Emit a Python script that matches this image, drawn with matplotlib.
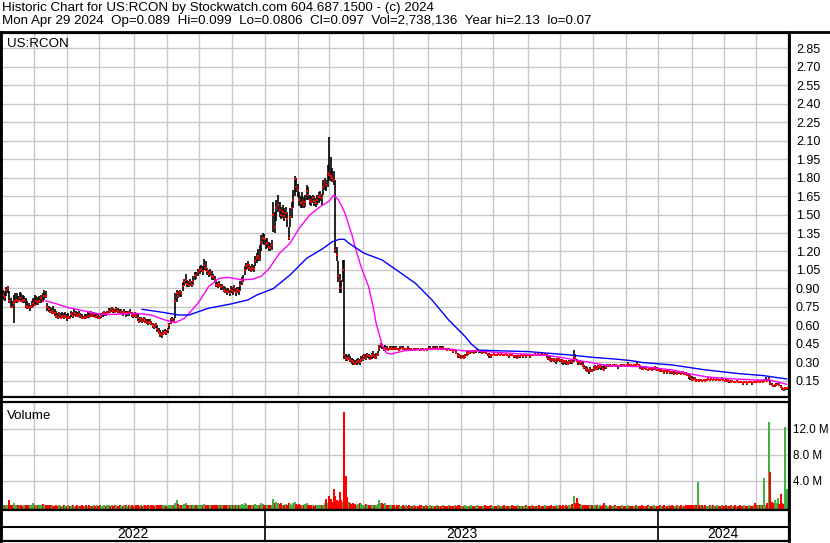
import matplotlib
matplotlib.use('Agg')
import matplotlib.pyplot as plt
from matplotlib.lines import Line2D
import numpy as np
import pandas as pd

plt.rcParams['font.family'] = ['Liberation Sans', 'DejaVu Sans']

# Barras diarias (dias habiles) desde 2 may 2022 hasta 29 abr 2024
close = [
    0.83, 0.85, 0.83, 0.89, 0.90, 0.80, 0.75, 0.75, 0.78, 0.80,
    0.81, 0.80, 0.82, 0.80, 0.80, 0.81, 0.76, 0.75, 0.74, 0.75,
    0.76, 0.78, 0.77, 0.80, 0.79, 0.80, 0.82, 0.80, 0.84, 0.84,
    0.75, 0.73, 0.71, 0.72, 0.70, 0.70, 0.68, 0.67, 0.69, 0.66,
    0.68, 0.67, 0.68, 0.66, 0.67, 0.66, 0.69, 0.68, 0.70, 0.69,
    0.68, 0.69, 0.68, 0.66, 0.66, 0.67, 0.66, 0.68, 0.68, 0.69,
    0.68, 0.69, 0.67, 0.68, 0.66, 0.66, 0.68, 0.69, 0.70, 0.69,
    0.70, 0.72, 0.71, 0.73, 0.72, 0.71, 0.73, 0.72, 0.70, 0.71,
    0.70, 0.71, 0.69, 0.70, 0.70, 0.71, 0.69, 0.68, 0.69, 0.68,
    0.66, 0.64, 0.65, 0.64, 0.65, 0.64, 0.63, 0.62, 0.63, 0.62,
    0.60, 0.59, 0.60, 0.57, 0.55, 0.53, 0.52, 0.54, 0.55, 0.54,
    0.56, 0.60, 0.63, 0.65, 0.64, 0.80, 0.86, 0.84, 0.87, 0.86,
    0.92, 0.95, 0.97, 0.94, 0.93, 0.95, 0.93, 0.96, 1.01, 1.00,
    1.03, 1.05, 1.06, 1.04, 1.09, 1.07, 1.04, 1.02, 1.03, 1.00,
    0.99, 0.97, 0.93, 0.92, 0.94, 0.91, 0.92, 0.89, 0.88, 0.87,
    0.88, 0.86, 0.89, 0.88, 0.90, 0.87, 0.89, 0.88, 0.93, 0.96,
    0.98, 1.05, 1.08, 1.09, 1.07, 1.05, 1.07, 1.06, 1.12, 1.15,
    1.16, 1.14, 1.28, 1.31, 1.30, 1.26, 1.27, 1.24, 1.23, 1.25,
    1.50, 1.40, 1.55, 1.58, 1.54, 1.50, 1.52, 1.49, 1.51, 1.46,
    1.31, 1.48, 1.55, 1.62, 1.79, 1.72, 1.70, 1.62, 1.59, 1.60,
    1.58, 1.60, 1.69, 1.66, 1.62, 1.60, 1.63, 1.61, 1.59, 1.62,
    1.64, 1.66, 1.63, 1.72, 1.76, 1.74, 1.84, 1.82, 1.81, 1.80,
    1.78, 1.21, 1.17, 1.00, 0.97, 0.90, 1.05, 0.36, 0.34, 0.33,
    0.34, 0.32, 0.31, 0.30, 0.29, 0.30, 0.31, 0.30, 0.32, 0.33,
    0.35, 0.34, 0.36, 0.35, 0.33, 0.35, 0.36, 0.34, 0.35, 0.37,
    0.42, 0.44, 0.43, 0.41, 0.42, 0.41, 0.40, 0.41, 0.42, 0.41,
    0.41, 0.42, 0.41, 0.40, 0.41, 0.42, 0.41, 0.40, 0.41, 0.41,
    0.40, 0.41, 0.40, 0.41, 0.40, 0.41, 0.41, 0.40, 0.40, 0.41,
    0.40, 0.41, 0.40, 0.41, 0.42, 0.41, 0.42, 0.41, 0.42, 0.41,
    0.42, 0.41, 0.42, 0.41, 0.41, 0.40, 0.41, 0.40, 0.40, 0.39,
    0.40, 0.38, 0.36, 0.35, 0.34, 0.35, 0.34, 0.35, 0.37, 0.38,
    0.38, 0.39, 0.39, 0.38, 0.39, 0.40, 0.39, 0.39, 0.38, 0.39,
    0.39, 0.38, 0.37, 0.36, 0.35, 0.36, 0.37, 0.36, 0.36, 0.37,
    0.36, 0.37, 0.36, 0.36, 0.37, 0.36, 0.35, 0.36, 0.36, 0.35,
    0.35, 0.34, 0.35, 0.35, 0.36, 0.35, 0.36, 0.35, 0.36, 0.36,
    0.35, 0.36, 0.36, 0.37, 0.36, 0.37, 0.36, 0.37, 0.37, 0.36,
    0.37, 0.36, 0.34, 0.33, 0.32, 0.33, 0.32, 0.31, 0.32, 0.33,
    0.32, 0.31, 0.30, 0.31, 0.30, 0.29, 0.30, 0.31, 0.30, 0.35,
    0.34, 0.31, 0.30, 0.29, 0.30, 0.28, 0.26, 0.25, 0.24, 0.23,
    0.24, 0.23, 0.25, 0.26, 0.25, 0.26, 0.27, 0.26, 0.25, 0.24,
    0.26, 0.27, 0.28, 0.27, 0.27, 0.28, 0.27, 0.28, 0.27, 0.27,
    0.27, 0.28, 0.28, 0.27, 0.28, 0.29, 0.28, 0.28, 0.27, 0.28,
    0.28, 0.29, 0.28, 0.27, 0.25, 0.25, 0.26, 0.25, 0.24, 0.25,
    0.25, 0.24, 0.25, 0.26, 0.25, 0.24, 0.23, 0.24, 0.23, 0.22,
    0.23, 0.22, 0.23, 0.22, 0.22, 0.21, 0.22, 0.21, 0.22, 0.22,
    0.21, 0.22, 0.21, 0.21, 0.20, 0.19, 0.18, 0.17, 0.16, 0.17,
    0.15, 0.16, 0.15, 0.16, 0.15, 0.16, 0.15, 0.16, 0.17, 0.16,
    0.17, 0.16, 0.17, 0.16, 0.17, 0.16, 0.16, 0.17, 0.16, 0.15,
    0.15, 0.16, 0.15, 0.14, 0.15, 0.14, 0.14, 0.15, 0.14, 0.14,
    0.14, 0.13, 0.14, 0.14, 0.13, 0.14, 0.14, 0.13, 0.14, 0.14,
    0.14, 0.15, 0.14, 0.15, 0.14, 0.15, 0.16, 0.15, 0.17, 0.13,
    0.12, 0.11, 0.115, 0.12, 0.125, 0.12, 0.10, 0.09, 0.085, 0.089, 0.097,
]

high = [
    0.87, 0.89, 0.88, 0.91, 0.92, 0.88, 0.82, 0.80, 0.85, 0.86,
    0.86, 0.84, 0.87, 0.86, 0.85, 0.84, 0.82, 0.80, 0.78, 0.77,
    0.80, 0.82, 0.85, 0.84, 0.83, 0.84, 0.85, 0.86, 0.89, 0.88,
    0.78, 0.76, 0.75, 0.74, 0.76, 0.73, 0.72, 0.70, 0.71, 0.70,
    0.71, 0.70, 0.71, 0.69, 0.70, 0.68, 0.72, 0.71, 0.73, 0.72,
    0.71, 0.72, 0.70, 0.69, 0.68, 0.69, 0.69, 0.71, 0.70, 0.72,
    0.71, 0.71, 0.70, 0.70, 0.69, 0.68, 0.70, 0.71, 0.72, 0.71,
    0.72, 0.74, 0.74, 0.75, 0.74, 0.73, 0.75, 0.74, 0.73, 0.73,
    0.72, 0.73, 0.72, 0.72, 0.72, 0.73, 0.71, 0.70, 0.71, 0.70,
    0.69, 0.67, 0.67, 0.66, 0.67, 0.66, 0.65, 0.65, 0.65, 0.64,
    0.62, 0.61, 0.62, 0.60, 0.58, 0.56, 0.55, 0.56, 0.57, 0.56,
    0.58, 0.62, 0.66, 0.67, 0.66, 0.86, 0.89, 0.88, 0.89, 0.88,
    0.95, 0.98, 1.02, 0.97, 0.96, 0.98, 0.96, 1.00, 1.03, 1.03,
    1.06, 1.08, 1.09, 1.08, 1.14, 1.12, 1.07, 1.05, 1.06, 1.04,
    1.02, 1.00, 0.96, 0.95, 0.96, 0.94, 0.94, 0.92, 0.91, 0.90,
    0.90, 0.89, 0.92, 0.91, 0.93, 0.90, 0.91, 0.91, 0.96, 0.99,
    1.01, 1.08, 1.11, 1.12, 1.10, 1.08, 1.10, 1.09, 1.16, 1.19,
    1.22, 1.25, 1.33, 1.35, 1.34, 1.30, 1.31, 1.28, 1.27, 1.29,
    1.60, 1.52, 1.62, 1.66, 1.60, 1.56, 1.58, 1.55, 1.56, 1.52,
    1.40, 1.55, 1.60, 1.70, 1.81, 1.80, 1.75, 1.68, 1.65, 1.68,
    1.64, 1.66, 1.74, 1.72, 1.66, 1.65, 1.66, 1.65, 1.63, 1.66,
    1.68, 1.69, 1.67, 1.78, 1.80, 1.78, 1.90, 2.13, 1.97, 1.88,
    1.85, 1.78, 1.24, 1.12, 1.02, 0.97, 1.13, 1.13, 0.37, 0.36,
    0.37, 0.35, 0.34, 0.33, 0.32, 0.33, 0.34, 0.33, 0.35, 0.36,
    0.37, 0.37, 0.38, 0.37, 0.36, 0.38, 0.39, 0.37, 0.38, 0.39,
    0.44, 0.46, 0.45, 0.43, 0.44, 0.43, 0.42, 0.43, 0.43, 0.43,
    0.43, 0.43, 0.42, 0.42, 0.43, 0.43, 0.43, 0.42, 0.42, 0.43,
    0.42, 0.42, 0.41, 0.42, 0.42, 0.42, 0.42, 0.41, 0.42, 0.42,
    0.41, 0.42, 0.42, 0.43, 0.43, 0.42, 0.43, 0.43, 0.43, 0.42,
    0.43, 0.43, 0.43, 0.42, 0.42, 0.42, 0.42, 0.41, 0.41, 0.41,
    0.41, 0.40, 0.38, 0.37, 0.36, 0.36, 0.36, 0.37, 0.39, 0.39,
    0.39, 0.40, 0.40, 0.40, 0.40, 0.41, 0.40, 0.40, 0.39, 0.40,
    0.40, 0.39, 0.38, 0.38, 0.37, 0.37, 0.38, 0.37, 0.37, 0.38,
    0.37, 0.38, 0.37, 0.37, 0.38, 0.37, 0.36, 0.37, 0.37, 0.36,
    0.36, 0.36, 0.36, 0.36, 0.37, 0.36, 0.37, 0.36, 0.37, 0.37,
    0.36, 0.37, 0.37, 0.38, 0.37, 0.38, 0.37, 0.38, 0.38, 0.37,
    0.38, 0.37, 0.35, 0.35, 0.34, 0.34, 0.34, 0.33, 0.34, 0.34,
    0.33, 0.33, 0.32, 0.32, 0.32, 0.31, 0.32, 0.32, 0.32, 0.40,
    0.37, 0.33, 0.32, 0.31, 0.31, 0.30, 0.28, 0.27, 0.26, 0.25,
    0.26, 0.25, 0.27, 0.28, 0.27, 0.28, 0.29, 0.28, 0.27, 0.28,
    0.28, 0.29, 0.29, 0.29, 0.28, 0.29, 0.29, 0.29, 0.28, 0.28,
    0.29, 0.29, 0.29, 0.28, 0.29, 0.30, 0.29, 0.29, 0.28, 0.29,
    0.29, 0.30, 0.29, 0.28, 0.27, 0.26, 0.27, 0.27, 0.25, 0.26,
    0.26, 0.26, 0.26, 0.27, 0.26, 0.25, 0.25, 0.25, 0.24, 0.24,
    0.24, 0.24, 0.24, 0.23, 0.23, 0.23, 0.23, 0.22, 0.23, 0.23,
    0.22, 0.23, 0.22, 0.22, 0.21, 0.21, 0.20, 0.19, 0.18, 0.18,
    0.17, 0.17, 0.17, 0.17, 0.16, 0.17, 0.17, 0.17, 0.18, 0.17,
    0.18, 0.17, 0.18, 0.17, 0.18, 0.17, 0.17, 0.18, 0.17, 0.16,
    0.17, 0.17, 0.16, 0.16, 0.16, 0.15, 0.15, 0.16, 0.15, 0.15,
    0.15, 0.14, 0.15, 0.15, 0.14, 0.15, 0.15, 0.14, 0.15, 0.15,
    0.15, 0.16, 0.15, 0.16, 0.15, 0.17, 0.18, 0.17, 0.185, 0.16,
    0.13, 0.12, 0.12, 0.13, 0.13, 0.13, 0.12, 0.10, 0.095, 0.10, 0.099,
]

low = [
    0.80, 0.81, 0.80, 0.84, 0.86, 0.78, 0.74, 0.74, 0.62, 0.78,
    0.78, 0.79, 0.80, 0.79, 0.78, 0.78, 0.74, 0.73, 0.73, 0.72,
    0.74, 0.75, 0.76, 0.77, 0.77, 0.78, 0.78, 0.79, 0.81, 0.82,
    0.72, 0.71, 0.70, 0.69, 0.69, 0.68, 0.66, 0.65, 0.66, 0.65,
    0.66, 0.65, 0.66, 0.64, 0.65, 0.65, 0.67, 0.66, 0.68, 0.67,
    0.67, 0.67, 0.66, 0.65, 0.65, 0.65, 0.65, 0.66, 0.66, 0.67,
    0.67, 0.67, 0.66, 0.66, 0.65, 0.65, 0.66, 0.67, 0.68, 0.68,
    0.69, 0.70, 0.70, 0.71, 0.70, 0.70, 0.71, 0.70, 0.69, 0.69,
    0.68, 0.69, 0.67, 0.68, 0.68, 0.69, 0.67, 0.66, 0.67, 0.66,
    0.64, 0.62, 0.63, 0.62, 0.63, 0.62, 0.61, 0.60, 0.61, 0.60,
    0.58, 0.57, 0.58, 0.55, 0.53, 0.51, 0.50, 0.52, 0.53, 0.52,
    0.54, 0.57, 0.61, 0.63, 0.62, 0.66, 0.79, 0.82, 0.83, 0.83,
    0.88, 0.92, 0.94, 0.91, 0.91, 0.92, 0.91, 0.93, 0.97, 0.98,
    1.00, 1.02, 1.03, 1.01, 1.05, 1.04, 1.01, 0.99, 1.00, 0.97,
    0.97, 0.95, 0.91, 0.90, 0.91, 0.89, 0.89, 0.87, 0.86, 0.85,
    0.86, 0.84, 0.86, 0.85, 0.87, 0.84, 0.86, 0.85, 0.88, 0.93,
    0.95, 1.01, 1.05, 1.06, 1.04, 1.03, 1.04, 1.03, 1.08, 1.11,
    1.12, 1.12, 1.20, 1.26, 1.25, 1.22, 1.23, 1.20, 1.20, 1.21,
    1.36, 1.35, 1.45, 1.52, 1.48, 1.46, 1.47, 1.45, 1.47, 1.40,
    1.29, 1.40, 1.47, 1.55, 1.65, 1.68, 1.64, 1.57, 1.55, 1.55,
    1.55, 1.56, 1.62, 1.62, 1.58, 1.57, 1.59, 1.57, 1.56, 1.58,
    1.59, 1.61, 1.58, 1.66, 1.70, 1.69, 1.72, 1.77, 1.77, 1.76,
    1.74, 1.19, 1.12, 0.95, 0.86, 0.86, 0.95, 0.33, 0.31, 0.31,
    0.32, 0.30, 0.29, 0.28, 0.28, 0.28, 0.29, 0.28, 0.30, 0.31,
    0.33, 0.32, 0.34, 0.33, 0.32, 0.33, 0.34, 0.33, 0.33, 0.35,
    0.39, 0.42, 0.41, 0.39, 0.40, 0.40, 0.39, 0.40, 0.40, 0.40,
    0.40, 0.40, 0.40, 0.39, 0.40, 0.41, 0.40, 0.39, 0.40, 0.40,
    0.39, 0.40, 0.39, 0.40, 0.39, 0.40, 0.40, 0.39, 0.39, 0.40,
    0.39, 0.40, 0.39, 0.40, 0.41, 0.40, 0.41, 0.40, 0.41, 0.40,
    0.41, 0.40, 0.41, 0.40, 0.40, 0.39, 0.40, 0.39, 0.39, 0.38,
    0.39, 0.37, 0.34, 0.34, 0.33, 0.34, 0.33, 0.34, 0.35, 0.36,
    0.37, 0.38, 0.38, 0.37, 0.38, 0.39, 0.38, 0.38, 0.37, 0.38,
    0.38, 0.37, 0.35, 0.34, 0.34, 0.35, 0.36, 0.35, 0.35, 0.36,
    0.35, 0.36, 0.35, 0.35, 0.36, 0.35, 0.34, 0.35, 0.35, 0.34,
    0.34, 0.33, 0.34, 0.34, 0.35, 0.34, 0.35, 0.34, 0.35, 0.35,
    0.34, 0.35, 0.35, 0.36, 0.35, 0.36, 0.35, 0.36, 0.36, 0.35,
    0.36, 0.34, 0.32, 0.31, 0.30, 0.31, 0.30, 0.29, 0.30, 0.31,
    0.30, 0.29, 0.28, 0.29, 0.28, 0.28, 0.29, 0.29, 0.29, 0.30,
    0.32, 0.30, 0.28, 0.28, 0.28, 0.26, 0.25, 0.23, 0.22, 0.21,
    0.22, 0.22, 0.23, 0.24, 0.24, 0.24, 0.25, 0.24, 0.24, 0.24,
    0.25, 0.26, 0.26, 0.26, 0.26, 0.27, 0.26, 0.26, 0.25, 0.26,
    0.26, 0.27, 0.27, 0.26, 0.27, 0.27, 0.27, 0.27, 0.26, 0.27,
    0.27, 0.28, 0.27, 0.25, 0.24, 0.24, 0.25, 0.24, 0.23, 0.24,
    0.24, 0.23, 0.24, 0.24, 0.23, 0.23, 0.22, 0.22, 0.22, 0.21,
    0.22, 0.21, 0.22, 0.21, 0.21, 0.20, 0.21, 0.20, 0.21, 0.21,
    0.20, 0.21, 0.20, 0.20, 0.19, 0.17, 0.16, 0.15, 0.15, 0.16,
    0.14, 0.15, 0.14, 0.15, 0.14, 0.15, 0.14, 0.15, 0.16, 0.15,
    0.16, 0.15, 0.16, 0.15, 0.16, 0.15, 0.15, 0.16, 0.15, 0.14,
    0.14, 0.14, 0.13, 0.13, 0.14, 0.13, 0.13, 0.14, 0.13, 0.13,
    0.13, 0.12, 0.13, 0.13, 0.12, 0.13, 0.13, 0.12, 0.13, 0.13,
    0.13, 0.14, 0.13, 0.14, 0.13, 0.14, 0.15, 0.14, 0.15, 0.12,
    0.11, 0.10, 0.105, 0.11, 0.115, 0.11, 0.095, 0.08, 0.07, 0.08, 0.0806,
]

# volumen diario en millones de acciones
volume = [
    0.4, 0.3, 0.2, 0.3, 0.2, 1.0, 0.3, 0.3, 0.6, 0.2,
    0.2, 0.3, 0.2, 0.2, 0.1, 0.2, 0.2, 0.2, 0.3, 0.2,
    0.3, 0.6, 0.2, 0.2, 0.2, 0.2, 0.3, 0.4, 0.3, 0.3,
    0.3, 0.3, 0.2, 0.3, 0.1, 0.1, 0.2, 0.1, 0.2, 0.1,
    0.1, 0.2, 0.1, 0.1, 0.2, 0.1, 0.1, 0.2, 0.1, 0.1,
    0.2, 0.1, 0.1, 0.2, 0.1, 0.1, 0.2, 0.1, 0.2, 0.1,
    0.1, 0.2, 0.1, 0.2, 0.1, 0.2, 0.1, 0.1, 0.2, 0.1,
    0.2, 0.2, 0.1, 0.2, 0.1, 0.2, 0.2, 0.1, 0.2, 0.1,
    0.1, 0.2, 0.2, 0.1, 0.2, 0.1, 0.2, 0.1, 0.2, 0.2,
    0.2, 0.1, 0.2, 0.1, 0.2, 0.2, 0.1, 0.2, 0.1, 0.2,
    0.2, 0.1, 0.2, 0.2, 0.3, 0.2, 0.3, 0.2, 0.2, 0.1,
    0.2, 0.2, 0.3, 0.2, 0.2, 0.5, 1.0, 0.4, 0.3, 0.3,
    0.3, 0.4, 0.5, 0.3, 0.2, 0.3, 0.2, 0.2, 0.3, 0.2,
    0.3, 0.2, 0.3, 0.2, 0.4, 0.3, 0.2, 0.2, 0.2, 0.2,
    0.2, 0.2, 0.3, 0.2, 0.2, 0.2, 0.2, 0.3, 0.2, 0.2,
    0.2, 0.2, 0.2, 0.2, 0.3, 0.2, 0.2, 0.2, 0.3, 0.4,
    0.3, 0.5, 0.4, 0.3, 0.3, 0.2, 0.3, 0.2, 0.4, 0.3,
    0.3, 0.2, 0.5, 0.4, 0.3, 0.2, 0.2, 0.2, 0.2, 0.3,
    1.2, 0.6, 0.7, 0.5, 0.4, 0.5, 0.3, 0.3, 0.4, 0.3,
    0.6, 0.4, 0.3, 0.5, 0.7, 0.4, 0.3, 0.4, 0.3, 0.2,
    0.3, 0.4, 0.5, 0.2, 0.2, 0.2, 0.2, 0.1, 0.2, 0.2,
    0.2, 0.2, 0.2, 0.3, 0.6, 1.2, 0.6, 1.7, 1.2, 0.8,
    2.7, 1.7, 1.0, 0.9, 2.3, 1.0, 0.8, 14.5, 4.8, 1.5,
    0.7, 0.5, 0.4, 0.5, 0.4, 0.3, 0.4, 0.5, 0.4, 0.3,
    0.3, 0.4, 0.3, 0.2, 0.3, 0.2, 0.3, 0.2, 0.3, 0.4,
    1.0, 0.6, 0.5, 0.4, 0.5, 0.3, 0.2, 0.3, 0.2, 0.2,
    0.2, 0.1, 0.2, 0.2, 0.1, 0.1, 0.2, 0.1, 0.2, 0.1,
    0.3, 0.1, 0.1, 0.2, 0.1, 0.1, 0.1, 0.2, 0.3, 0.1,
    0.1, 0.2, 0.1, 0.1, 0.2, 0.1, 0.1, 0.1, 0.2, 0.1,
    0.1, 0.1, 0.2, 0.1, 0.1, 0.1, 0.2, 0.1, 0.1, 0.1,
    0.2, 0.1, 0.2, 0.2, 0.1, 0.1, 0.1, 0.2, 0.1, 0.1,
    0.1, 0.2, 0.1, 0.1, 0.1, 0.2, 0.1, 0.1, 0.1, 0.1,
    0.2, 0.1, 0.1, 0.1, 0.2, 0.1, 0.1, 0.1, 0.1, 0.2,
    0.1, 0.1, 0.1, 0.2, 0.1, 0.1, 0.1, 0.1, 0.2, 0.1,
    0.1, 0.1, 0.2, 0.1, 0.1, 0.1, 0.1, 0.2, 0.1, 0.1,
    0.1, 0.2, 0.1, 0.1, 0.1, 0.1, 0.2, 0.1, 0.1, 0.1,
    0.2, 0.1, 0.1, 0.1, 0.2, 0.1, 0.1, 0.1, 0.2, 0.1,
    0.2, 0.1, 0.2, 0.1, 0.2, 0.1, 0.2, 0.3, 0.4, 1.7,
    0.6, 1.3, 0.5, 0.4, 0.3, 0.3, 0.2, 0.3, 0.2, 0.2,
    0.2, 0.2, 0.1, 0.2, 0.2, 0.1, 0.2, 0.1, 0.2, 0.6,
    0.2, 0.1, 0.1, 0.2, 0.1, 0.1, 0.2, 0.1, 0.1, 0.1,
    0.1, 0.2, 0.1, 0.1, 0.1, 0.2, 0.1, 0.1, 0.1, 0.1,
    0.2, 0.1, 0.1, 0.1, 0.2, 0.1, 0.1, 0.1, 0.2, 0.1,
    0.1, 0.1, 0.2, 0.1, 0.1, 0.1, 0.2, 0.1, 0.1, 0.2,
    0.1, 0.1, 0.2, 0.1, 0.3, 0.1, 0.1, 0.2, 0.1, 0.1,
    0.2, 0.1, 0.1, 0.2, 0.3, 0.2, 0.3, 0.2, 0.2, 0.3,
    0.2, 3.8, 0.3, 0.2, 0.2, 0.1, 0.2, 0.1, 0.1, 0.2,
    0.1, 0.2, 0.1, 0.1, 0.2, 0.1, 0.1, 0.2, 0.1, 0.1,
    0.2, 0.1, 0.1, 0.3, 0.1, 0.1, 0.2, 0.1, 0.1, 0.2,
    0.1, 0.1, 0.2, 0.1, 0.1, 0.2, 0.1, 0.1, 0.2, 0.6,
    0.2, 0.3, 0.2, 0.3, 0.2, 4.4, 0.3, 0.5, 13.1, 5.4,
    0.7, 0.5, 1.0, 0.6, 1.3, 0.4, 2.0, 0.5, 0.4, 12.2, 2.74,
]

# medias moviles (dia, valor)
ma_short_day = [29, 35, 44, 58, 66, 75, 88, 99, 108, 115, 121, 130, 137, 144, 150,
                159, 166, 172, 177, 184, 191, 197, 204, 211, 217, 220, 223, 227, 232,
                234, 238, 243, 246, 248, 252, 255, 258, 267, 285, 298, 305, 318, 326,
                349, 362, 371, 384, 393, 402, 417, 424, 444, 455, 466, 477, 499, 508,
                515, 520]
ma_short_val = [0.80, 0.78, 0.745, 0.71, 0.69, 0.69, 0.70, 0.685, 0.645, 0.623, 0.658,
                0.78, 0.915, 0.983, 0.99, 0.97, 0.975, 1.00, 1.06, 1.186, 1.267, 1.388,
                1.496, 1.564, 1.61, 1.658, 1.618, 1.523, 1.334, 1.24, 1.077, 0.915,
                0.753, 0.618, 0.442, 0.375, 0.369, 0.396, 0.41, 0.407, 0.395, 0.393,
                0.383, 0.366, 0.355, 0.34, 0.312, 0.293, 0.274, 0.268, 0.266, 0.24,
                0.21, 0.185, 0.172, 0.158, 0.158, 0.139, 0.123]

ma_long_day = [93, 108, 117, 124, 137, 152, 163, 169, 180, 191, 202, 213, 219, 224,
               227, 230, 240, 252, 263, 274, 285, 296, 307, 311, 316, 326, 349, 362,
               377, 393, 406, 417, 424, 444, 466, 488, 505, 520]
ma_long_val = [0.731, 0.704, 0.685, 0.685, 0.74, 0.775, 0.807, 0.847, 0.90, 1.01,
               1.145, 1.226, 1.28, 1.30, 1.298, 1.267, 1.186, 1.131, 1.037, 0.942,
               0.807, 0.645, 0.51, 0.45, 0.40, 0.396, 0.388, 0.375, 0.36, 0.34,
               0.328, 0.315, 0.30, 0.28, 0.24, 0.21, 0.193, 0.166]

price_ticks = [0.15, 0.30, 0.45, 0.60, 0.75, 0.90, 1.05, 1.20, 1.35, 1.50,
               1.65, 1.80, 1.95, 2.10, 2.25, 2.40, 2.55, 2.70, 2.85]
vol_ticks = [4, 8, 12]
vol_labels = ['4.0 M', '8.0 M', '12.0 M']
years = ['2022', '2023', '2024']

header1 = 'Historic Chart for US:RCON by Stockwatch.com 604.687.1500 - (c) 2024'
header2 = ('Mon Apr 29 2024  Op=0.089  Hi=0.099  Lo=0.0806  Cl=0.097  '
           'Vol=2,738,136  Year hi=2.13  lo=0.07')

n = len(close)
x = np.arange(n)
dates = pd.bdate_range('2022-05-02', periods=n)
month_starts = [i for i in range(1, n) if dates[i].month != dates[i - 1].month]
year_starts = [i for i in range(1, n) if dates[i].year != dates[i - 1].year]

W, H = 830, 543
GRID = '#c8c8c8'
XL = (-0.5, n + 0.5)
VMIN = -0.5


def box(x0, y0, x1, y1):
    return [x0 / W, 1 - y1 / H, (x1 - x0) / W, (y1 - y0) / H]


fig = plt.figure(figsize=(8.3, 5.43), dpi=100)
fig.text(2 / W, 1 - 8 / H, header1, fontsize=9.6, va='center', ha='left')
fig.text(2 / W, 1 - 21 / H, header2, fontsize=9.6, va='center', ha='left')

# panel de precios
ax = fig.add_axes(box(1, 33, 789, 397))
for m in month_starts:
    ax.axvline(m - 0.5, color=GRID, lw=1, zorder=0)
ax.vlines(x, low, high, color='black', lw=1.2, zorder=2)
ax.plot(x, close, 's', color='red', ms=1.7, mew=0, zorder=3)
ax.plot(ma_short_day, ma_short_val, color='#ff00ff', lw=1.0, zorder=4)
ax.plot(ma_long_day, ma_long_val, color='#0000ff', lw=1.0, zorder=4)
ax.set_xlim(*XL)
ax.set_ylim(0.02, 2.972)
ax.set_yticks(price_ticks)
ax.set_yticklabels(['%.2f' % t for t in price_ticks])
ax.yaxis.tick_right()
ax.tick_params(axis='y', length=0, pad=5, labelsize=9)
ax.set_xticks([])
ax.grid(axis='y', color=GRID, lw=1)
ax.set_axisbelow(True)
ax.text(0.008, 0.985, 'US:RCON', transform=ax.transAxes, fontsize=9.6,
        va='top', ha='left')

# panel de volumen
up = [i > 0 and close[i] > close[i - 1] for i in range(n)]
colors = ['#44b044' if u else '#ff0000' for u in up]
axv = fig.add_axes(box(1, 402, 789, 510))
for m in month_starts:
    axv.axvline(m - 0.5, color=GRID, lw=1, zorder=0)
axv.vlines(x, VMIN, volume, colors=colors, lw=1.4, zorder=2, antialiased=False)
axv.set_xlim(*XL)
axv.set_ylim(VMIN, 16.1)
axv.set_yticks(vol_ticks)
axv.set_yticklabels(vol_labels)
axv.yaxis.tick_right()
axv.tick_params(axis='y', length=0, pad=3, labelsize=8.4)
axv.set_xticks([])
axv.grid(axis='y', color=GRID, lw=1)
axv.set_axisbelow(True)
axv.text(0.008, 0.93, 'Volume', transform=axv.transAxes, fontsize=9.6,
         va='top', ha='left')

# franja de anos
axy = fig.add_axes(box(1, 510, 789, 541))
axy.set_xlim(*XL)
axy.set_ylim(0, 31)
axy.axhline(14, color='black', lw=1.5)
bounds = [XL[0]] + [y - 0.5 for y in year_starts] + [XL[1]]
for b in bounds[1:-1]:
    axy.axvline(b, color='black', lw=1.2)
for k, yr in enumerate(years):
    axy.text((bounds[k] + bounds[k + 1]) / 2, 6.5, yr, ha='center', va='center',
             fontsize=10)
axy.set_xticks([])
axy.set_yticks([])

for a in (ax, axv, axy):
    for s in a.spines.values():
        s.set_color('black')
        s.set_linewidth(1.6)

fig.add_artist(Line2D([0, 1], [1 - 32 / H] * 2, color='black', lw=2))
fig.add_artist(Line2D([1 / W, 1 / W], [1 - 541 / H, 1 - 32 / H], color='black', lw=2))
fig.add_artist(Line2D([789 / W, 789 / W], [1 - 541 / H, 1 - 32 / H], color='black', lw=2))

fig.savefig('out.png', dpi=100)
